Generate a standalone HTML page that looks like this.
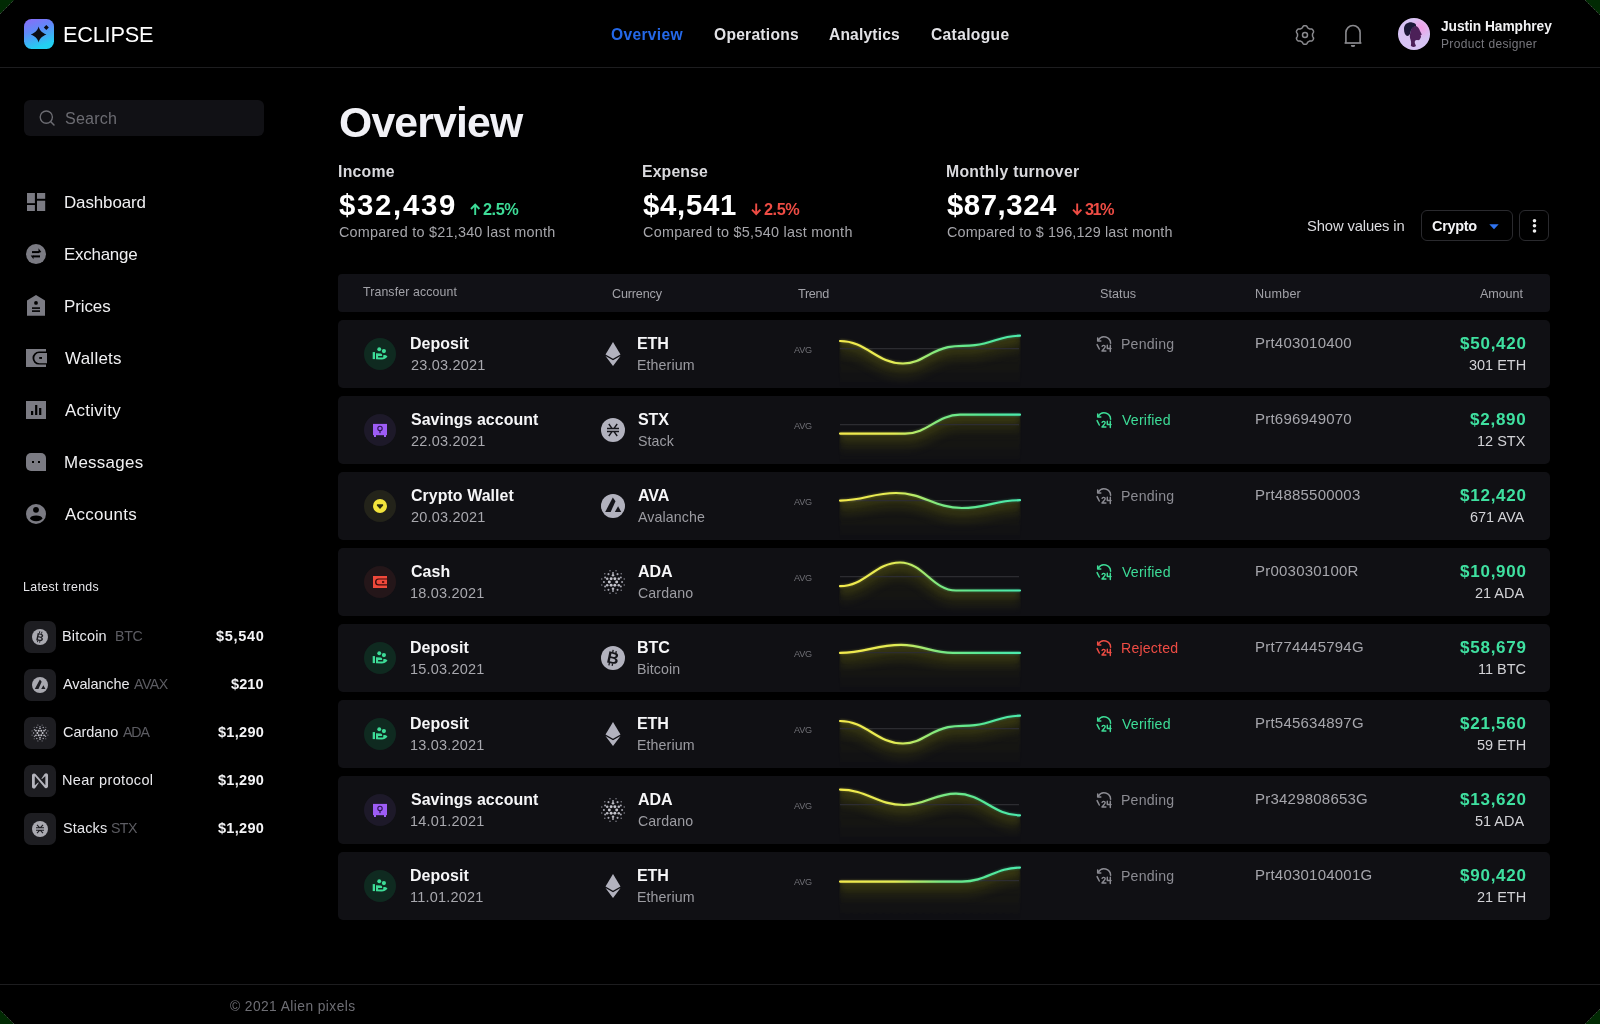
<!DOCTYPE html>
<html><head><meta charset="utf-8"><title>Eclipse - Overview</title><style>
*{margin:0;padding:0;box-sizing:border-box}
html,body{width:1600px;height:1024px;overflow:hidden;background:#012a03}
body{font-family:"Liberation Sans",sans-serif}
#page{position:absolute;left:0;top:0;width:1600px;height:1024px;background:#000;overflow:hidden;clip-path:polygon(14px 0,1585px 0,1600px 15px,1600px 1009px,1585px 1024px,14px 1024px,0 1010px,0 14px)}
.rim{position:absolute;left:0;top:0;z-index:9}
.t{position:absolute;white-space:nowrap;line-height:1;z-index:3;will-change:transform}
.abs{position:absolute}
.logo{position:absolute;left:24px;top:19px;width:30px;height:30px}
.hline{position:absolute;left:0;width:1600px;height:1px;background:#1d1d1f}
.search{position:absolute;left:24px;top:100px;width:240px;height:36px;border-radius:6px;background:#111115}
.tbox{position:absolute;left:24px;width:32px;height:32px;border-radius:7px;background:#1d1d21}
.btn{position:absolute;top:210px;height:31px;border:1.5px solid #2a2a2e;border-radius:6px}
.thead{position:absolute;left:338px;top:274px;width:1212px;height:38px;border-radius:4px;background:#111116}
.row{position:absolute;left:338px;width:1212px;height:68px;border-radius:5px;background:#101014}
</style></head>
<body><div id="page">
<div class="logo"><svg width="30" height="30" viewBox="0 0 30 30">
<defs><linearGradient id="lg" x1="0" y1="0" x2="0.35" y2="1"><stop offset="0" stop-color="#8d6bf7"/><stop offset="0.45" stop-color="#5f8af9"/><stop offset="1" stop-color="#22d0f2"/></linearGradient></defs>
<rect width="30" height="30" rx="7.5" fill="url(#lg)"/>
<path d="M14.6 7.6 C15.6 11.4 17.2 13.3 22.4 15.6 C17.2 17.9 15.6 19.8 14.6 23.6 C13.6 19.8 12 17.9 6.8 15.6 C12 13.3 13.6 11.4 14.6 7.6Z" fill="#0d0d14"/>
<path d="M22.3 5.9 L24.8 8.4 L22.3 10.9 L19.8 8.4Z" fill="#0d0d14"/>
</svg></div>
<svg class="abs" style="left:1292px;top:21.8px" width="26" height="26" viewBox="0 0 26 26">
<path d="M20.50 13.00 L20.50 12.87 L20.50 12.74 L20.50 12.61 L20.51 12.48 L20.51 12.34 L20.52 12.21 L20.54 12.07 L20.56 11.94 L20.59 11.80 L20.64 11.65 L20.71 11.50 L20.79 11.34 L20.90 11.18 L21.01 11.00 L21.14 10.82 L21.26 10.63 L21.36 10.44 L21.45 10.25 L21.51 10.07 L21.54 9.89 L21.55 9.72 L21.55 9.55 L21.52 9.38 L21.49 9.22 L21.44 9.07 L21.38 8.91 L21.32 8.76 L21.25 8.61 L21.18 8.47 L21.10 8.32 L21.01 8.19 L20.92 8.05 L20.83 7.91 L20.73 7.78 L20.63 7.66 L20.51 7.54 L20.39 7.43 L20.26 7.33 L20.12 7.23 L19.96 7.16 L19.79 7.10 L19.60 7.06 L19.40 7.03 L19.18 7.03 L18.96 7.04 L18.74 7.06 L18.53 7.07 L18.33 7.08 L18.15 7.07 L17.99 7.06 L17.84 7.03 L17.70 6.99 L17.57 6.94 L17.44 6.88 L17.32 6.82 L17.21 6.76 L17.09 6.70 L16.98 6.64 L16.86 6.57 L16.75 6.50 L16.64 6.44 L16.52 6.37 L16.41 6.31 L16.30 6.24 L16.19 6.17 L16.08 6.09 L15.97 6.01 L15.86 5.92 L15.75 5.82 L15.65 5.71 L15.56 5.58 L15.46 5.42 L15.37 5.25 L15.28 5.06 L15.18 4.86 L15.08 4.66 L14.97 4.48 L14.85 4.31 L14.72 4.17 L14.58 4.05 L14.43 3.95 L14.28 3.87 L14.13 3.81 L13.97 3.76 L13.81 3.73 L13.65 3.70 L13.49 3.68 L13.33 3.66 L13.16 3.65 L13.00 3.65 L12.84 3.65 L12.67 3.66 L12.51 3.68 L12.35 3.70 L12.19 3.73 L12.03 3.76 L11.87 3.81 L11.72 3.87 L11.57 3.95 L11.42 4.05 L11.28 4.17 L11.15 4.31 L11.03 4.48 L10.92 4.66 L10.82 4.86 L10.72 5.06 L10.63 5.25 L10.54 5.42 L10.44 5.58 L10.35 5.71 L10.25 5.82 L10.14 5.92 L10.03 6.01 L9.92 6.09 L9.81 6.17 L9.70 6.24 L9.59 6.31 L9.48 6.37 L9.36 6.44 L9.25 6.50 L9.14 6.57 L9.02 6.64 L8.91 6.70 L8.79 6.76 L8.68 6.82 L8.56 6.88 L8.43 6.94 L8.30 6.99 L8.16 7.03 L8.01 7.06 L7.85 7.07 L7.67 7.08 L7.47 7.07 L7.26 7.06 L7.04 7.04 L6.82 7.03 L6.60 7.03 L6.40 7.06 L6.21 7.10 L6.04 7.16 L5.88 7.23 L5.74 7.33 L5.61 7.43 L5.49 7.54 L5.37 7.66 L5.27 7.78 L5.17 7.91 L5.08 8.05 L4.99 8.19 L4.90 8.32 L4.82 8.47 L4.75 8.61 L4.68 8.76 L4.62 8.91 L4.56 9.07 L4.51 9.22 L4.48 9.38 L4.45 9.55 L4.45 9.72 L4.46 9.89 L4.49 10.07 L4.55 10.25 L4.64 10.44 L4.74 10.63 L4.86 10.82 L4.99 11.00 L5.10 11.18 L5.21 11.34 L5.29 11.50 L5.36 11.65 L5.41 11.80 L5.44 11.94 L5.46 12.07 L5.48 12.21 L5.49 12.34 L5.49 12.48 L5.50 12.61 L5.50 12.74 L5.50 12.87 L5.50 13.00 L5.50 13.13 L5.50 13.26 L5.50 13.39 L5.49 13.52 L5.49 13.66 L5.48 13.79 L5.46 13.93 L5.44 14.06 L5.41 14.20 L5.36 14.35 L5.29 14.50 L5.21 14.66 L5.10 14.82 L4.99 15.00 L4.86 15.18 L4.74 15.37 L4.64 15.56 L4.55 15.75 L4.49 15.93 L4.46 16.11 L4.45 16.28 L4.45 16.45 L4.48 16.62 L4.51 16.78 L4.56 16.93 L4.62 17.09 L4.68 17.24 L4.75 17.39 L4.82 17.53 L4.90 17.68 L4.99 17.81 L5.08 17.95 L5.17 18.09 L5.27 18.22 L5.37 18.34 L5.49 18.46 L5.61 18.57 L5.74 18.67 L5.88 18.77 L6.04 18.84 L6.21 18.90 L6.40 18.94 L6.60 18.97 L6.82 18.97 L7.04 18.96 L7.26 18.94 L7.47 18.93 L7.67 18.92 L7.85 18.93 L8.01 18.94 L8.16 18.97 L8.30 19.01 L8.43 19.06 L8.56 19.12 L8.68 19.18 L8.79 19.24 L8.91 19.30 L9.02 19.36 L9.14 19.43 L9.25 19.50 L9.36 19.56 L9.48 19.63 L9.59 19.69 L9.70 19.76 L9.81 19.83 L9.92 19.91 L10.03 19.99 L10.14 20.08 L10.25 20.18 L10.35 20.29 L10.44 20.42 L10.54 20.58 L10.63 20.75 L10.72 20.94 L10.82 21.14 L10.92 21.34 L11.03 21.52 L11.15 21.69 L11.28 21.83 L11.42 21.95 L11.57 22.05 L11.72 22.13 L11.87 22.19 L12.03 22.24 L12.19 22.27 L12.35 22.30 L12.51 22.32 L12.67 22.34 L12.84 22.35 L13.00 22.35 L13.16 22.35 L13.33 22.34 L13.49 22.32 L13.65 22.30 L13.81 22.27 L13.97 22.24 L14.13 22.19 L14.28 22.13 L14.43 22.05 L14.58 21.95 L14.72 21.83 L14.85 21.69 L14.97 21.52 L15.08 21.34 L15.18 21.14 L15.28 20.94 L15.37 20.75 L15.46 20.58 L15.56 20.42 L15.65 20.29 L15.75 20.18 L15.86 20.08 L15.97 19.99 L16.08 19.91 L16.19 19.83 L16.30 19.76 L16.41 19.69 L16.52 19.63 L16.64 19.56 L16.75 19.50 L16.86 19.43 L16.98 19.36 L17.09 19.30 L17.21 19.24 L17.32 19.18 L17.44 19.12 L17.57 19.06 L17.70 19.01 L17.84 18.97 L17.99 18.94 L18.15 18.93 L18.33 18.92 L18.53 18.93 L18.74 18.94 L18.96 18.96 L19.18 18.97 L19.40 18.97 L19.60 18.94 L19.79 18.90 L19.96 18.84 L20.12 18.77 L20.26 18.67 L20.39 18.57 L20.51 18.46 L20.63 18.34 L20.73 18.22 L20.83 18.09 L20.92 17.95 L21.01 17.81 L21.10 17.68 L21.18 17.53 L21.25 17.39 L21.32 17.24 L21.38 17.09 L21.44 16.93 L21.49 16.78 L21.52 16.62 L21.55 16.45 L21.55 16.28 L21.54 16.11 L21.51 15.93 L21.45 15.75 L21.36 15.56 L21.26 15.37 L21.14 15.18 L21.01 15.00 L20.90 14.82 L20.79 14.66 L20.71 14.50 L20.64 14.35 L20.59 14.20 L20.56 14.06 L20.54 13.93 L20.52 13.79 L20.51 13.66 L20.51 13.52 L20.50 13.39 L20.50 13.26 L20.50 13.13Z" fill="none" stroke="#8a8a8e" stroke-width="1.5" stroke-linejoin="round"/>
<circle cx="13" cy="13" r="2.5" fill="none" stroke="#8a8a8e" stroke-width="1.5"/></svg>
<svg class="abs" style="left:1340px;top:22px" width="26" height="28" viewBox="0 0 26 28">
<path d="M5.9 20.9 V10.6 A7.1 7.1 0 0 1 20.1 10.6 V20.9" fill="none" stroke="#8a8a8e" stroke-width="1.6"/>
<path d="M4.6 21 H21.4" stroke="#8a8a8e" stroke-width="1.7"/>
<path d="M10.8 22.9 H15.2 A2.2 2.2 0 0 1 10.8 22.9Z" fill="#8a8a8e"/></svg>
<svg class="abs" style="left:1398px;top:18px" width="32" height="32" viewBox="0 0 32 32">
<defs><radialGradient id="av" cx="0.45" cy="0.6" r="0.75"><stop offset="0" stop-color="#d8c4f2"/><stop offset="0.7" stop-color="#d6c2f4"/><stop offset="1" stop-color="#e8d4fa"/></radialGradient>
<radialGradient id="avp" cx="0.72" cy="0.3" r="0.35"><stop offset="0" stop-color="#f49ae4" stop-opacity="0.95"/><stop offset="1" stop-color="#f49ae4" stop-opacity="0"/></radialGradient>
<clipPath id="avc"><circle cx="16" cy="16" r="16"/></clipPath></defs>
<circle cx="16" cy="16" r="16" fill="url(#av)"/>
<circle cx="16" cy="16" r="16" fill="url(#avp)"/>
<g clip-path="url(#avc)">
<path d="M12.5 14 C13 10 15.5 8 18 8 C20 8.5 21.5 11 22 13 L23.8 16.5 L22.5 17.5 L23.2 19 L22.3 20 C22.5 21.5 21 22.5 19 22 C17.5 21.8 16.5 23 16.8 25 L18 28 C16 29.5 13.5 29 12.8 27.5 C13.5 25 13 22.5 12 20 C11.5 18 12 16 12.5 14Z" fill="#4c2058"/>
<path d="M6 11 C6 6 10 4 14 4.4 C17 4.7 18.5 6 18 8 C15 8.5 13 11 12.5 14 C12 16.5 11 18 9 18 C7 17 6 14.5 6 11Z" fill="#1b1838"/>
</g></svg>
<div class="hline" style="top:67px"></div>
<div class="search"></div>
<svg class="abs" style="left:38px;top:109px" width="18" height="18" viewBox="0 0 18 18">
<circle cx="8.3" cy="8.1" r="6.1" fill="none" stroke="#6c6c72" stroke-width="1.35"/>
<path d="M12.8 12.8 L16 16" stroke="#6c6c72" stroke-width="1.5" stroke-linecap="round"/></svg>
<svg class="abs" style="left:0;top:0" width="70" height="540" viewBox="0 0 70 540">
<g fill="#7b7b83">
<rect x="27" y="193" width="7.9" height="10.2"/><rect x="27" y="205" width="7.9" height="6"/>
<rect x="37" y="193" width="8.2" height="5.8"/><rect x="37" y="200.7" width="8.2" height="10.3"/>
<circle cx="36" cy="254.1" r="10"/>
<path d="M27 300.5 L36 295 L45 300.5 V315.8 H27Z"/>
<rect x="26" y="349" width="20" height="18"/>
<rect x="26" y="401" width="20" height="18"/>
<path d="M31 453 H41 A5 5 0 0 1 46 458 V471 H31 A5 5 0 0 1 26 466 V458 A5 5 0 0 1 31 453Z"/>
<circle cx="36" cy="514" r="10"/>
</g>
<g fill="#000">
<rect x="32" y="251.1" width="7" height="2"/><path d="M38.5 248.2 L41.3 252.1 L38.5 253.1Z"/>
<rect x="33" y="255.4" width="7" height="2"/><path d="M33.5 255.4 L30.7 255.4 L33.5 259.3Z"/>
<circle cx="36" cy="302.9" r="1.9"/>
<rect x="32" y="307.3" width="8" height="1.6"/><rect x="32" y="310.3" width="8" height="1.6"/>
<path d="M39 351.6 H47 V364.6 H39 A6.5 6.5 0 0 1 39 351.6Z"/>
<rect x="31" y="411" width="2.2" height="4"/><rect x="35.1" y="405" width="2.2" height="10"/><rect x="39.1" y="408" width="2.2" height="7"/>
<rect x="32" y="461" width="2" height="2"/><rect x="38" y="461" width="2" height="2"/>
<circle cx="36" cy="509.8" r="2.9"/>
<ellipse cx="36.2" cy="518.3" rx="6.1" ry="2.9"/>
</g>
<g fill="#7b7b83"><path d="M39.4 353 H47 V363.2 H39.4 A5.1 5.1 0 0 1 39.4 353Z"/></g>
<rect x="39.2" y="357" width="2.8" height="1.9" fill="#000"/>
</svg>
<div class="tbox" style="top:621px"></div>
<div class="tbox" style="top:669px"></div>
<div class="tbox" style="top:717px"></div>
<div class="tbox" style="top:765px"></div>
<div class="tbox" style="top:813px"></div>
<svg class="abs" style="left:0;top:0;will-change:transform" width="80" height="860" viewBox="0 0 80 860"><circle cx="40" cy="637" r="8" fill="#a9a9b0"/><g transform="rotate(12 40 637)"><text x="40" y="640.8" text-anchor="middle" font-family="Liberation Sans" font-weight="700" font-size="10.5" fill="#1d1d22">B</text><path d="M38.6 631.4 V633.4 M40.8 631.4 V633.4 M38.6 640.6 V642.6 M40.8 640.6 V642.6" stroke="#1d1d22" stroke-width="0.9"/></g><circle cx="40" cy="685" r="8" fill="#a9a9b0"/><path d="M39.87 679.4 L41.67 681.8 L38.47 688.93 H34.8Z M43.4 685.13 L45.47 688.93 H41.2Z" fill="#1d1d22"/><circle cx="42.60" cy="733.00" r="1.05" fill="#c4c4cc"/><circle cx="41.30" cy="735.25" r="1.05" fill="#c4c4cc"/><circle cx="38.70" cy="735.25" r="1.05" fill="#c4c4cc"/><circle cx="37.40" cy="733.00" r="1.05" fill="#c4c4cc"/><circle cx="38.70" cy="730.75" r="1.05" fill="#c4c4cc"/><circle cx="41.30" cy="730.75" r="1.05" fill="#c4c4cc"/><circle cx="44.07" cy="735.35" r="0.90" fill="#b8b8c0"/><circle cx="40.00" cy="737.70" r="0.90" fill="#b8b8c0"/><circle cx="35.93" cy="735.35" r="0.90" fill="#b8b8c0"/><circle cx="35.93" cy="730.65" r="0.90" fill="#b8b8c0"/><circle cx="40.00" cy="728.30" r="0.90" fill="#b8b8c0"/><circle cx="44.07" cy="730.65" r="0.90" fill="#b8b8c0"/><circle cx="46.40" cy="733.00" r="0.72" fill="#a4a4ae"/><circle cx="45.54" cy="736.20" r="0.72" fill="#a4a4ae"/><circle cx="43.20" cy="738.54" r="0.72" fill="#a4a4ae"/><circle cx="40.00" cy="739.40" r="0.72" fill="#a4a4ae"/><circle cx="36.80" cy="738.54" r="0.72" fill="#a4a4ae"/><circle cx="34.46" cy="736.20" r="0.72" fill="#a4a4ae"/><circle cx="33.60" cy="733.00" r="0.72" fill="#a4a4ae"/><circle cx="34.46" cy="729.80" r="0.72" fill="#a4a4ae"/><circle cx="36.80" cy="727.46" r="0.72" fill="#a4a4ae"/><circle cx="40.00" cy="726.60" r="0.72" fill="#a4a4ae"/><circle cx="43.20" cy="727.46" r="0.72" fill="#a4a4ae"/><circle cx="45.54" cy="729.80" r="0.72" fill="#a4a4ae"/><circle cx="47.92" cy="735.12" r="0.55" fill="#80808a"/><circle cx="45.80" cy="738.80" r="0.55" fill="#80808a"/><circle cx="42.12" cy="740.92" r="0.55" fill="#80808a"/><circle cx="37.88" cy="740.92" r="0.55" fill="#80808a"/><circle cx="34.20" cy="738.80" r="0.55" fill="#80808a"/><circle cx="32.08" cy="735.12" r="0.55" fill="#80808a"/><circle cx="32.08" cy="730.88" r="0.55" fill="#80808a"/><circle cx="34.20" cy="727.20" r="0.55" fill="#80808a"/><circle cx="37.88" cy="725.08" r="0.55" fill="#80808a"/><circle cx="42.12" cy="725.08" r="0.55" fill="#80808a"/><circle cx="45.80" cy="727.20" r="0.55" fill="#80808a"/><circle cx="47.92" cy="730.88" r="0.55" fill="#80808a"/><path transform="translate(32 773) scale(0.665)" d="M19.1 1.2 L14.3 8.3 C14 8.8 14.6 9.4 15.1 8.9 L19.8 4.8 C19.9 4.7 20.1 4.8 20.1 5 V17.8 C20.1 18 19.9 18.1 19.7 18 L5.3 1.6 C4.8 1 4.1 0.7 3.3 0.7 H2.8 C1.3 0.7 0 2 0 3.5 V20.5 C0 22 1.3 23.3 2.8 23.3 C3.8 23.3 4.7 22.8 5.2 22 L10 14.9 C10.3 14.4 9.7 13.8 9.2 14.3 L4.5 18.3 C4.4 18.4 4.2 18.3 4.2 18.1 V5 C4.2 4.8 4.4 4.7 4.6 4.8 L18.9 21.9 C19.4 22.5 20.1 22.8 20.8 22.8 H21.3 C22.8 22.8 24.1 21.5 24.1 20 V3 C24.1 1.5 22.8 0.2 21.3 0.2 C20.3 0.2 19.4 0.7 18.9 1.5Z" fill="#b4b4bc"/><circle cx="40" cy="829" r="8" fill="#a9a9b0"/><g stroke="#1d1d22" stroke-width="1.1" fill="none"><path d="M36 827.8 H44 M36 830.2 H44 M37 824.8 L39.6 827.6 M43 824.8 L40.4 827.6 M37 833.2 L39.6 830.4 M43 833.2 L40.4 830.4"/></g></svg>
<svg class="abs" style="left:469.5px;top:203px" width="12" height="13" viewBox="0 0 12 13"><path d="M5.2 12 V2 M1 6 L5.2 1.6 L9.4 6" fill="none" stroke="#3ddc97" stroke-width="1.9"/></svg>
<svg class="abs" style="left:750.5px;top:203px" width="12" height="13" viewBox="0 0 12 13"><path d="M5.2 0.5 V10.5 M1 6.6 L5.2 11 L9.4 6.6" fill="none" stroke="#ee4c44" stroke-width="1.9"/></svg>
<svg class="abs" style="left:1071.7px;top:203px" width="12" height="13" viewBox="0 0 12 13"><path d="M5.2 0.5 V10.5 M1 6.6 L5.2 11 L9.4 6.6" fill="none" stroke="#ee4c44" stroke-width="1.9"/></svg>
<div class="btn" style="left:1421px;width:92px"></div><div class="btn" style="left:1519px;width:30px"></div>
<svg class="abs" style="left:1488px;top:223px" width="12" height="8" viewBox="0 0 12 8"><path d="M1.3 1.2 H10.7 L6 6.2Z" fill="#2f73f0"/></svg>
<svg class="abs" style="left:1530px;top:217px" width="10" height="18" viewBox="0 0 10 18"><circle cx="4.5" cy="3.8" r="1.8" fill="#eee"/><circle cx="4.5" cy="8.8" r="1.8" fill="#eee"/><circle cx="4.5" cy="14" r="1.8" fill="#eee"/></svg>
<div class="thead"></div>
<div class="row" style="top:320px"></div>
<div class="row" style="top:396px"></div>
<div class="row" style="top:472px"></div>
<div class="row" style="top:548px"></div>
<div class="row" style="top:624px"></div>
<div class="row" style="top:700px"></div>
<div class="row" style="top:776px"></div>
<div class="row" style="top:852px"></div>
<svg class="abs" style="left:0;top:0;z-index:2" width="1600" height="1024" viewBox="0 0 1600 1024"><defs><linearGradient id="cg" gradientUnits="userSpaceOnUse" x1="840" y1="0" x2="1020" y2="0"><stop offset="0" stop-color="#f3ea4c"/><stop offset="0.3" stop-color="#e4ec54"/><stop offset="0.56" stop-color="#7ae882"/><stop offset="0.8" stop-color="#55e898"/><stop offset="1" stop-color="#4ceaae"/></linearGradient><linearGradient id="fg" x1="0" y1="0" x2="0" y2="1"><stop offset="0" stop-color="#84841a" stop-opacity="0.13"/><stop offset="0.5" stop-color="#6a6a14" stop-opacity="0.07"/><stop offset="1" stop-color="#6a6a10" stop-opacity="0.0"/></linearGradient><filter id="gl" x="-10%" y="-50%" width="120%" height="200%"><feGaussianBlur stdDeviation="1.2"/></filter><filter id="sh" x="-10%" y="-50%" width="120%" height="250%"><feGaussianBlur stdDeviation="3"/></filter><filter id="sh2" x="-10%" y="-80%" width="120%" height="300%"><feGaussianBlur stdDeviation="5"/></filter><filter id="fb" x="-5%" y="-5%" width="110%" height="110%"><feGaussianBlur stdDeviation="1.2"/></filter></defs><circle cx="380" cy="354" r="16" fill="#0f2a20"/><g fill="#3ddc97"><circle cx="379.25" cy="349.25" r="1.95"/><circle cx="383.9" cy="351.1" r="2.1"/><rect x="372.7" y="352.1" width="2.3" height="7"/><path d=" M376.00 353.20 L 380.60 353.40 C 381.60 353.50 382.30 354.30 382.20 355.20 L 382.10 356.10 L 378.10 356.10 L 378.10 357.50 L 383.20 357.50 L 383.30 355.20 C 384.80 354.80 386.30 355.30 387.50 356.40 C 386.00 358.40 384.20 359.40 381.60 359.40 L 376.00 359.30 Z"/></g><path d="M613 342 L620.5 354.4 L613 358.8 L605.5 354.4Z" fill="#b2b2be"/><path d="M605.5 355.9 L613 360.3 L620.5 355.9 L613 366Z" fill="#b2b2be"/><path d="M840.00 341.00 C866.46 341.00 876.54 363.50 903.00 363.50 C921.90 363.50 929.10 350.98 948.00 347.20 C959.34 344.93 963.66 346.56 975.00 345.20 C993.90 342.93 1001.10 335.70 1020.00 335.70 L1020 388 L840 388Z" fill="url(#fg)" filter="url(#fb)"/><g clip-path="url(#rc0)"><path d="M840.00 341.00 C866.46 341.00 876.54 363.50 903.00 363.50 C921.90 363.50 929.10 350.98 948.00 347.20 C959.34 344.93 963.66 346.56 975.00 345.20 C993.90 342.93 1001.10 335.70 1020.00 335.70" fill="none" stroke="#8a8a18" stroke-width="14" opacity="0.13" transform="translate(0 8)" filter="url(#sh2)"/><path d="M840.00 341.00 C866.46 341.00 876.54 363.50 903.00 363.50 C921.90 363.50 929.10 350.98 948.00 347.20 C959.34 344.93 963.66 346.56 975.00 345.20 C993.90 342.93 1001.10 335.70 1020.00 335.70" fill="none" stroke="#9a9a1a" stroke-width="5" opacity="0.22" transform="translate(0 3.5)" filter="url(#sh)"/></g><clipPath id="rc0"><path d="M840.00 341.00 C866.46 341.00 876.54 363.50 903.00 363.50 C921.90 363.50 929.10 350.98 948.00 347.20 C959.34 344.93 963.66 346.56 975.00 345.20 C993.90 342.93 1001.10 335.70 1020.00 335.70 L1022 388 L838 388Z"/></clipPath><line x1="840" y1="348.6" x2="1019" y2="348.6" stroke="#2c2c31" stroke-width="1.2"/><path d="M840.00 341.00 C866.46 341.00 876.54 363.50 903.00 363.50 C921.90 363.50 929.10 350.98 948.00 347.20 C959.34 344.93 963.66 346.56 975.00 345.20 C993.90 342.93 1001.10 335.70 1020.00 335.70" fill="none" stroke="url(#cg)" stroke-width="3" opacity="0.3" filter="url(#gl)"/><path d="M840.00 341.00 C866.46 341.00 876.54 363.50 903.00 363.50 C921.90 363.50 929.10 350.98 948.00 347.20 C959.34 344.93 963.66 346.56 975.00 345.20 C993.90 342.93 1001.10 335.70 1020.00 335.70" fill="none" stroke="url(#cg)" stroke-width="2.2" stroke-linecap="round"/><g transform="translate(1092,332)" fill="none" stroke="#8b8b92" stroke-width="1.5" stroke-linecap="round" stroke-linejoin="round"><path d="M6.4 8 A6.6 6.6 0 0 1 18.6 11.2"/><path d="M5.7 5.9 V9 H8.8"/><path d="M5.1 12.6 L7.3 17"/><path d="M10.1 14.3 C10.4 13 13 13 13.2 14.6 C13.3 15.6 12 16.6 10 19 H13.9" stroke-width="1.45"/><path d="M15.3 13.2 V16.5 H19 M18.3 13.2 V19.4" stroke-width="1.45"/></g><circle cx="380" cy="430" r="16" fill="#1d1929"/><rect x="373" y="423.9" width="14" height="11.3" fill="#9d5cf6"/><rect x="374" y="435" width="2" height="2" fill="#9d5cf6"/><rect x="384" y="435" width="2" height="2" fill="#9d5cf6"/><circle cx="380" cy="428.4" r="2.2" fill="none" stroke="#2b1550" stroke-width="1.1"/><rect x="379.4" y="430.6" width="1.2" height="2.6" fill="#2b1550"/><circle cx="613" cy="430" r="12" fill="#b2b2be"/><g stroke="#15151b" stroke-width="1.4" fill="none"><path d="M607 428.5 H619 M607 431.5 H619 M608.8 424 L612 428.4 M617.2 424 L614 428.4 M608.8 436 L612 431.6 M617.2 436 L614 431.6"/></g><path d="M840.00 433.60 C867.30 433.60 877.70 433.60 905.00 433.60 C928.10 433.60 936.90 414.70 960.00 414.70 C985.20 414.70 994.80 414.70 1020.00 414.70 L1020 464 L840 464Z" fill="url(#fg)" filter="url(#fb)"/><g clip-path="url(#rc1)"><path d="M840.00 433.60 C867.30 433.60 877.70 433.60 905.00 433.60 C928.10 433.60 936.90 414.70 960.00 414.70 C985.20 414.70 994.80 414.70 1020.00 414.70" fill="none" stroke="#8a8a18" stroke-width="14" opacity="0.13" transform="translate(0 8)" filter="url(#sh2)"/><path d="M840.00 433.60 C867.30 433.60 877.70 433.60 905.00 433.60 C928.10 433.60 936.90 414.70 960.00 414.70 C985.20 414.70 994.80 414.70 1020.00 414.70" fill="none" stroke="#9a9a1a" stroke-width="5" opacity="0.22" transform="translate(0 3.5)" filter="url(#sh)"/></g><clipPath id="rc1"><path d="M840.00 433.60 C867.30 433.60 877.70 433.60 905.00 433.60 C928.10 433.60 936.90 414.70 960.00 414.70 C985.20 414.70 994.80 414.70 1020.00 414.70 L1022 464 L838 464Z"/></clipPath><line x1="840" y1="424.6" x2="1019" y2="424.6" stroke="#2c2c31" stroke-width="1.2"/><path d="M840.00 433.60 C867.30 433.60 877.70 433.60 905.00 433.60 C928.10 433.60 936.90 414.70 960.00 414.70 C985.20 414.70 994.80 414.70 1020.00 414.70" fill="none" stroke="url(#cg)" stroke-width="3" opacity="0.3" filter="url(#gl)"/><path d="M840.00 433.60 C867.30 433.60 877.70 433.60 905.00 433.60 C928.10 433.60 936.90 414.70 960.00 414.70 C985.20 414.70 994.80 414.70 1020.00 414.70" fill="none" stroke="url(#cg)" stroke-width="2.2" stroke-linecap="round"/><g transform="translate(1092,408)" fill="none" stroke="#3ddc97" stroke-width="1.5" stroke-linecap="round" stroke-linejoin="round"><path d="M6.4 8 A6.6 6.6 0 0 1 18.6 11.2"/><path d="M5.7 5.9 V9 H8.8"/><path d="M5.1 12.6 L7.3 17"/><path d="M10.1 14.3 C10.4 13 13 13 13.2 14.6 C13.3 15.6 12 16.6 10 19 H13.9" stroke-width="1.45"/><path d="M15.3 13.2 V16.5 H19 M18.3 13.2 V19.4" stroke-width="1.45"/></g><circle cx="380" cy="506" r="16" fill="#23231a"/><circle cx="380" cy="506" r="7" fill="#f2e43c"/><path d="M377 504.2 H383 L383.2 505.4 L380 508.9 L376.8 505.4Z" fill="#2a2a10"/><circle cx="613" cy="506" r="12" fill="#b2b2be"/><path d="M612.8 497.6 L615.5 501.2 L610.7 511.9 H605.2Z" fill="#15151b"/><path d="M618.1 506.2 L621.2 511.9 H614.8Z" fill="#15151b"/><path d="M840.00 500.60 C863.52 500.60 872.48 493.00 896.00 493.00 C923.72 493.00 934.28 508.00 962.00 508.00 C986.36 508.00 995.64 500.20 1020.00 500.20 L1020 540 L840 540Z" fill="url(#fg)" filter="url(#fb)"/><g clip-path="url(#rc2)"><path d="M840.00 500.60 C863.52 500.60 872.48 493.00 896.00 493.00 C923.72 493.00 934.28 508.00 962.00 508.00 C986.36 508.00 995.64 500.20 1020.00 500.20" fill="none" stroke="#8a8a18" stroke-width="14" opacity="0.13" transform="translate(0 8)" filter="url(#sh2)"/><path d="M840.00 500.60 C863.52 500.60 872.48 493.00 896.00 493.00 C923.72 493.00 934.28 508.00 962.00 508.00 C986.36 508.00 995.64 500.20 1020.00 500.20" fill="none" stroke="#9a9a1a" stroke-width="5" opacity="0.22" transform="translate(0 3.5)" filter="url(#sh)"/></g><clipPath id="rc2"><path d="M840.00 500.60 C863.52 500.60 872.48 493.00 896.00 493.00 C923.72 493.00 934.28 508.00 962.00 508.00 C986.36 508.00 995.64 500.20 1020.00 500.20 L1022 540 L838 540Z"/></clipPath><line x1="840" y1="500.6" x2="1019" y2="500.6" stroke="#2c2c31" stroke-width="1.2"/><path d="M840.00 500.60 C863.52 500.60 872.48 493.00 896.00 493.00 C923.72 493.00 934.28 508.00 962.00 508.00 C986.36 508.00 995.64 500.20 1020.00 500.20" fill="none" stroke="url(#cg)" stroke-width="3" opacity="0.3" filter="url(#gl)"/><path d="M840.00 500.60 C863.52 500.60 872.48 493.00 896.00 493.00 C923.72 493.00 934.28 508.00 962.00 508.00 C986.36 508.00 995.64 500.20 1020.00 500.20" fill="none" stroke="url(#cg)" stroke-width="2.2" stroke-linecap="round"/><g transform="translate(1092,484)" fill="none" stroke="#8b8b92" stroke-width="1.5" stroke-linecap="round" stroke-linejoin="round"><path d="M6.4 8 A6.6 6.6 0 0 1 18.6 11.2"/><path d="M5.7 5.9 V9 H8.8"/><path d="M5.1 12.6 L7.3 17"/><path d="M10.1 14.3 C10.4 13 13 13 13.2 14.6 C13.3 15.6 12 16.6 10 19 H13.9" stroke-width="1.45"/><path d="M15.3 13.2 V16.5 H19 M18.3 13.2 V19.4" stroke-width="1.45"/></g><circle cx="380" cy="582" r="16" fill="#241619"/><rect x="373" y="576" width="14" height="12" fill="#f0493b"/><path d="M378.5 578.4 H387.6 V585.4 H378.5 A3.5 3.5 0 0 1 378.5 578.4Z" fill="#3a0d0d"/><path d="M378.8 579.5 H387 V584.3 H378.8 A2.4 2.4 0 0 1 378.8 579.5Z" fill="#f0493b"/><rect x="382" y="581.1" width="2.2" height="1.8" fill="#5a0d0d"/><circle cx="616.69" cy="582.00" r="1.49" fill="#c4c4cc"/><circle cx="614.85" cy="585.20" r="1.49" fill="#c4c4cc"/><circle cx="611.15" cy="585.20" r="1.49" fill="#c4c4cc"/><circle cx="609.31" cy="582.00" r="1.49" fill="#c4c4cc"/><circle cx="611.15" cy="578.80" r="1.49" fill="#c4c4cc"/><circle cx="614.85" cy="578.80" r="1.49" fill="#c4c4cc"/><circle cx="618.78" cy="585.34" r="1.28" fill="#b8b8c0"/><circle cx="613.00" cy="588.67" r="1.28" fill="#b8b8c0"/><circle cx="607.22" cy="585.34" r="1.28" fill="#b8b8c0"/><circle cx="607.22" cy="578.66" r="1.28" fill="#b8b8c0"/><circle cx="613.00" cy="575.33" r="1.28" fill="#b8b8c0"/><circle cx="618.78" cy="578.66" r="1.28" fill="#b8b8c0"/><circle cx="622.09" cy="582.00" r="1.02" fill="#a4a4ae"/><circle cx="620.87" cy="586.54" r="1.02" fill="#a4a4ae"/><circle cx="617.54" cy="589.87" r="1.02" fill="#a4a4ae"/><circle cx="613.00" cy="591.09" r="1.02" fill="#a4a4ae"/><circle cx="608.46" cy="589.87" r="1.02" fill="#a4a4ae"/><circle cx="605.13" cy="586.54" r="1.02" fill="#a4a4ae"/><circle cx="603.91" cy="582.00" r="1.02" fill="#a4a4ae"/><circle cx="605.13" cy="577.46" r="1.02" fill="#a4a4ae"/><circle cx="608.46" cy="574.13" r="1.02" fill="#a4a4ae"/><circle cx="613.00" cy="572.91" r="1.02" fill="#a4a4ae"/><circle cx="617.54" cy="574.13" r="1.02" fill="#a4a4ae"/><circle cx="620.87" cy="577.46" r="1.02" fill="#a4a4ae"/><circle cx="624.25" cy="585.01" r="0.78" fill="#80808a"/><circle cx="621.23" cy="590.23" r="0.78" fill="#80808a"/><circle cx="616.01" cy="593.25" r="0.78" fill="#80808a"/><circle cx="609.99" cy="593.25" r="0.78" fill="#80808a"/><circle cx="604.77" cy="590.23" r="0.78" fill="#80808a"/><circle cx="601.75" cy="585.01" r="0.78" fill="#80808a"/><circle cx="601.75" cy="578.99" r="0.78" fill="#80808a"/><circle cx="604.77" cy="573.77" r="0.78" fill="#80808a"/><circle cx="609.99" cy="570.75" r="0.78" fill="#80808a"/><circle cx="616.01" cy="570.75" r="0.78" fill="#80808a"/><circle cx="621.23" cy="573.77" r="0.78" fill="#80808a"/><circle cx="624.25" cy="578.99" r="0.78" fill="#80808a"/><path d="M840.00 586.20 C865.20 586.20 874.80 562.50 900.00 562.50 C923.52 562.50 932.48 590.50 956.00 590.50 C982.88 590.50 993.12 590.50 1020.00 590.50 L1020 616 L840 616Z" fill="url(#fg)" filter="url(#fb)"/><g clip-path="url(#rc3)"><path d="M840.00 586.20 C865.20 586.20 874.80 562.50 900.00 562.50 C923.52 562.50 932.48 590.50 956.00 590.50 C982.88 590.50 993.12 590.50 1020.00 590.50" fill="none" stroke="#8a8a18" stroke-width="14" opacity="0.13" transform="translate(0 8)" filter="url(#sh2)"/><path d="M840.00 586.20 C865.20 586.20 874.80 562.50 900.00 562.50 C923.52 562.50 932.48 590.50 956.00 590.50 C982.88 590.50 993.12 590.50 1020.00 590.50" fill="none" stroke="#9a9a1a" stroke-width="5" opacity="0.22" transform="translate(0 3.5)" filter="url(#sh)"/></g><clipPath id="rc3"><path d="M840.00 586.20 C865.20 586.20 874.80 562.50 900.00 562.50 C923.52 562.50 932.48 590.50 956.00 590.50 C982.88 590.50 993.12 590.50 1020.00 590.50 L1022 616 L838 616Z"/></clipPath><line x1="840" y1="576.6" x2="1019" y2="576.6" stroke="#2c2c31" stroke-width="1.2"/><path d="M840.00 586.20 C865.20 586.20 874.80 562.50 900.00 562.50 C923.52 562.50 932.48 590.50 956.00 590.50 C982.88 590.50 993.12 590.50 1020.00 590.50" fill="none" stroke="url(#cg)" stroke-width="3" opacity="0.3" filter="url(#gl)"/><path d="M840.00 586.20 C865.20 586.20 874.80 562.50 900.00 562.50 C923.52 562.50 932.48 590.50 956.00 590.50 C982.88 590.50 993.12 590.50 1020.00 590.50" fill="none" stroke="url(#cg)" stroke-width="2.2" stroke-linecap="round"/><g transform="translate(1092,560)" fill="none" stroke="#3ddc97" stroke-width="1.5" stroke-linecap="round" stroke-linejoin="round"><path d="M6.4 8 A6.6 6.6 0 0 1 18.6 11.2"/><path d="M5.7 5.9 V9 H8.8"/><path d="M5.1 12.6 L7.3 17"/><path d="M10.1 14.3 C10.4 13 13 13 13.2 14.6 C13.3 15.6 12 16.6 10 19 H13.9" stroke-width="1.45"/><path d="M15.3 13.2 V16.5 H19 M18.3 13.2 V19.4" stroke-width="1.45"/></g><circle cx="380" cy="658" r="16" fill="#0f2a20"/><g fill="#3ddc97"><circle cx="379.25" cy="653.25" r="1.95"/><circle cx="383.9" cy="655.1" r="2.1"/><rect x="372.7" y="656.1" width="2.3" height="7"/><path d=" M376.00 657.20 L 380.60 657.40 C 381.60 657.50 382.30 658.30 382.20 659.20 L 382.10 660.10 L 378.10 660.10 L 378.10 661.50 L 383.20 661.50 L 383.30 659.20 C 384.80 658.80 386.30 659.30 387.50 660.40 C 386.00 662.40 384.20 663.40 381.60 663.40 L 376.00 663.30 Z"/></g><circle cx="613" cy="658" r="12" fill="#b2b2be"/><text x="613" y="663.6" text-anchor="middle" font-family="Liberation Sans" font-weight="700" font-size="16.5" fill="#15151b" transform="rotate(12 613 658)">B</text><path d="M611.5 650 V652.5 M614.8 650.7 V652.7 M610.5 663.6 V666 M613.8 663.6 V665.8" stroke="#15151b" stroke-width="1.3" transform="rotate(12 613 658)"/><path d="M840.00 652.90 C865.62 652.90 875.38 644.80 901.00 644.80 C922.84 644.80 931.16 652.90 953.00 652.90 C981.14 652.90 991.86 652.90 1020.00 652.90 L1020 692 L840 692Z" fill="url(#fg)" filter="url(#fb)"/><g clip-path="url(#rc4)"><path d="M840.00 652.90 C865.62 652.90 875.38 644.80 901.00 644.80 C922.84 644.80 931.16 652.90 953.00 652.90 C981.14 652.90 991.86 652.90 1020.00 652.90" fill="none" stroke="#8a8a18" stroke-width="14" opacity="0.13" transform="translate(0 8)" filter="url(#sh2)"/><path d="M840.00 652.90 C865.62 652.90 875.38 644.80 901.00 644.80 C922.84 644.80 931.16 652.90 953.00 652.90 C981.14 652.90 991.86 652.90 1020.00 652.90" fill="none" stroke="#9a9a1a" stroke-width="5" opacity="0.22" transform="translate(0 3.5)" filter="url(#sh)"/></g><clipPath id="rc4"><path d="M840.00 652.90 C865.62 652.90 875.38 644.80 901.00 644.80 C922.84 644.80 931.16 652.90 953.00 652.90 C981.14 652.90 991.86 652.90 1020.00 652.90 L1022 692 L838 692Z"/></clipPath><line x1="840" y1="652.6" x2="1019" y2="652.6" stroke="#2c2c31" stroke-width="1.2"/><path d="M840.00 652.90 C865.62 652.90 875.38 644.80 901.00 644.80 C922.84 644.80 931.16 652.90 953.00 652.90 C981.14 652.90 991.86 652.90 1020.00 652.90" fill="none" stroke="url(#cg)" stroke-width="3" opacity="0.3" filter="url(#gl)"/><path d="M840.00 652.90 C865.62 652.90 875.38 644.80 901.00 644.80 C922.84 644.80 931.16 652.90 953.00 652.90 C981.14 652.90 991.86 652.90 1020.00 652.90" fill="none" stroke="url(#cg)" stroke-width="2.2" stroke-linecap="round"/><g transform="translate(1092,636)" fill="none" stroke="#ee4c44" stroke-width="1.5" stroke-linecap="round" stroke-linejoin="round"><path d="M6.4 8 A6.6 6.6 0 0 1 18.6 11.2"/><path d="M5.7 5.9 V9 H8.8"/><path d="M5.1 12.6 L7.3 17"/><path d="M10.1 14.3 C10.4 13 13 13 13.2 14.6 C13.3 15.6 12 16.6 10 19 H13.9" stroke-width="1.45"/><path d="M15.3 13.2 V16.5 H19 M18.3 13.2 V19.4" stroke-width="1.45"/></g><circle cx="380" cy="734" r="16" fill="#0f2a20"/><g fill="#3ddc97"><circle cx="379.25" cy="729.25" r="1.95"/><circle cx="383.9" cy="731.1" r="2.1"/><rect x="372.7" y="732.1" width="2.3" height="7"/><path d=" M376.00 733.20 L 380.60 733.40 C 381.60 733.50 382.30 734.30 382.20 735.20 L 382.10 736.10 L 378.10 736.10 L 378.10 737.50 L 383.20 737.50 L 383.30 735.20 C 384.80 734.80 386.30 735.30 387.50 736.40 C 386.00 738.40 384.20 739.40 381.60 739.40 L 376.00 739.30 Z"/></g><path d="M613 722 L620.5 734.4 L613 738.8 L605.5 734.4Z" fill="#b2b2be"/><path d="M605.5 735.9 L613 740.3 L620.5 735.9 L613 746Z" fill="#b2b2be"/><path d="M840.00 721.00 C866.46 721.00 876.54 743.50 903.00 743.50 C921.90 743.50 929.10 730.98 948.00 727.20 C959.34 724.93 963.66 726.56 975.00 725.20 C993.90 722.93 1001.10 715.70 1020.00 715.70 L1020 768 L840 768Z" fill="url(#fg)" filter="url(#fb)"/><g clip-path="url(#rc5)"><path d="M840.00 721.00 C866.46 721.00 876.54 743.50 903.00 743.50 C921.90 743.50 929.10 730.98 948.00 727.20 C959.34 724.93 963.66 726.56 975.00 725.20 C993.90 722.93 1001.10 715.70 1020.00 715.70" fill="none" stroke="#8a8a18" stroke-width="14" opacity="0.13" transform="translate(0 8)" filter="url(#sh2)"/><path d="M840.00 721.00 C866.46 721.00 876.54 743.50 903.00 743.50 C921.90 743.50 929.10 730.98 948.00 727.20 C959.34 724.93 963.66 726.56 975.00 725.20 C993.90 722.93 1001.10 715.70 1020.00 715.70" fill="none" stroke="#9a9a1a" stroke-width="5" opacity="0.22" transform="translate(0 3.5)" filter="url(#sh)"/></g><clipPath id="rc5"><path d="M840.00 721.00 C866.46 721.00 876.54 743.50 903.00 743.50 C921.90 743.50 929.10 730.98 948.00 727.20 C959.34 724.93 963.66 726.56 975.00 725.20 C993.90 722.93 1001.10 715.70 1020.00 715.70 L1022 768 L838 768Z"/></clipPath><line x1="840" y1="728.6" x2="1019" y2="728.6" stroke="#2c2c31" stroke-width="1.2"/><path d="M840.00 721.00 C866.46 721.00 876.54 743.50 903.00 743.50 C921.90 743.50 929.10 730.98 948.00 727.20 C959.34 724.93 963.66 726.56 975.00 725.20 C993.90 722.93 1001.10 715.70 1020.00 715.70" fill="none" stroke="url(#cg)" stroke-width="3" opacity="0.3" filter="url(#gl)"/><path d="M840.00 721.00 C866.46 721.00 876.54 743.50 903.00 743.50 C921.90 743.50 929.10 730.98 948.00 727.20 C959.34 724.93 963.66 726.56 975.00 725.20 C993.90 722.93 1001.10 715.70 1020.00 715.70" fill="none" stroke="url(#cg)" stroke-width="2.2" stroke-linecap="round"/><g transform="translate(1092,712)" fill="none" stroke="#3ddc97" stroke-width="1.5" stroke-linecap="round" stroke-linejoin="round"><path d="M6.4 8 A6.6 6.6 0 0 1 18.6 11.2"/><path d="M5.7 5.9 V9 H8.8"/><path d="M5.1 12.6 L7.3 17"/><path d="M10.1 14.3 C10.4 13 13 13 13.2 14.6 C13.3 15.6 12 16.6 10 19 H13.9" stroke-width="1.45"/><path d="M15.3 13.2 V16.5 H19 M18.3 13.2 V19.4" stroke-width="1.45"/></g><circle cx="380" cy="810" r="16" fill="#1d1929"/><rect x="373" y="803.9" width="14" height="11.3" fill="#9d5cf6"/><rect x="374" y="815" width="2" height="2" fill="#9d5cf6"/><rect x="384" y="815" width="2" height="2" fill="#9d5cf6"/><circle cx="380" cy="808.4" r="2.2" fill="none" stroke="#2b1550" stroke-width="1.1"/><rect x="379.4" y="810.6" width="1.2" height="2.6" fill="#2b1550"/><circle cx="616.69" cy="810.00" r="1.49" fill="#c4c4cc"/><circle cx="614.85" cy="813.20" r="1.49" fill="#c4c4cc"/><circle cx="611.15" cy="813.20" r="1.49" fill="#c4c4cc"/><circle cx="609.31" cy="810.00" r="1.49" fill="#c4c4cc"/><circle cx="611.15" cy="806.80" r="1.49" fill="#c4c4cc"/><circle cx="614.85" cy="806.80" r="1.49" fill="#c4c4cc"/><circle cx="618.78" cy="813.34" r="1.28" fill="#b8b8c0"/><circle cx="613.00" cy="816.67" r="1.28" fill="#b8b8c0"/><circle cx="607.22" cy="813.34" r="1.28" fill="#b8b8c0"/><circle cx="607.22" cy="806.66" r="1.28" fill="#b8b8c0"/><circle cx="613.00" cy="803.33" r="1.28" fill="#b8b8c0"/><circle cx="618.78" cy="806.66" r="1.28" fill="#b8b8c0"/><circle cx="622.09" cy="810.00" r="1.02" fill="#a4a4ae"/><circle cx="620.87" cy="814.54" r="1.02" fill="#a4a4ae"/><circle cx="617.54" cy="817.87" r="1.02" fill="#a4a4ae"/><circle cx="613.00" cy="819.09" r="1.02" fill="#a4a4ae"/><circle cx="608.46" cy="817.87" r="1.02" fill="#a4a4ae"/><circle cx="605.13" cy="814.54" r="1.02" fill="#a4a4ae"/><circle cx="603.91" cy="810.00" r="1.02" fill="#a4a4ae"/><circle cx="605.13" cy="805.46" r="1.02" fill="#a4a4ae"/><circle cx="608.46" cy="802.13" r="1.02" fill="#a4a4ae"/><circle cx="613.00" cy="800.91" r="1.02" fill="#a4a4ae"/><circle cx="617.54" cy="802.13" r="1.02" fill="#a4a4ae"/><circle cx="620.87" cy="805.46" r="1.02" fill="#a4a4ae"/><circle cx="624.25" cy="813.01" r="0.78" fill="#80808a"/><circle cx="621.23" cy="818.23" r="0.78" fill="#80808a"/><circle cx="616.01" cy="821.25" r="0.78" fill="#80808a"/><circle cx="609.99" cy="821.25" r="0.78" fill="#80808a"/><circle cx="604.77" cy="818.23" r="0.78" fill="#80808a"/><circle cx="601.75" cy="813.01" r="0.78" fill="#80808a"/><circle cx="601.75" cy="806.99" r="0.78" fill="#80808a"/><circle cx="604.77" cy="801.77" r="0.78" fill="#80808a"/><circle cx="609.99" cy="798.75" r="0.78" fill="#80808a"/><circle cx="616.01" cy="798.75" r="0.78" fill="#80808a"/><circle cx="621.23" cy="801.77" r="0.78" fill="#80808a"/><circle cx="624.25" cy="806.99" r="0.78" fill="#80808a"/><path d="M840.00 789.60 C866.88 789.60 877.12 805.00 904.00 805.00 C925.84 805.00 934.16 793.60 956.00 793.60 C982.88 793.60 993.12 815.30 1020.00 815.30 L1020 844 L840 844Z" fill="url(#fg)" filter="url(#fb)"/><g clip-path="url(#rc6)"><path d="M840.00 789.60 C866.88 789.60 877.12 805.00 904.00 805.00 C925.84 805.00 934.16 793.60 956.00 793.60 C982.88 793.60 993.12 815.30 1020.00 815.30" fill="none" stroke="#8a8a18" stroke-width="14" opacity="0.13" transform="translate(0 8)" filter="url(#sh2)"/><path d="M840.00 789.60 C866.88 789.60 877.12 805.00 904.00 805.00 C925.84 805.00 934.16 793.60 956.00 793.60 C982.88 793.60 993.12 815.30 1020.00 815.30" fill="none" stroke="#9a9a1a" stroke-width="5" opacity="0.22" transform="translate(0 3.5)" filter="url(#sh)"/></g><clipPath id="rc6"><path d="M840.00 789.60 C866.88 789.60 877.12 805.00 904.00 805.00 C925.84 805.00 934.16 793.60 956.00 793.60 C982.88 793.60 993.12 815.30 1020.00 815.30 L1022 844 L838 844Z"/></clipPath><line x1="840" y1="804.6" x2="1019" y2="804.6" stroke="#2c2c31" stroke-width="1.2"/><path d="M840.00 789.60 C866.88 789.60 877.12 805.00 904.00 805.00 C925.84 805.00 934.16 793.60 956.00 793.60 C982.88 793.60 993.12 815.30 1020.00 815.30" fill="none" stroke="url(#cg)" stroke-width="3" opacity="0.3" filter="url(#gl)"/><path d="M840.00 789.60 C866.88 789.60 877.12 805.00 904.00 805.00 C925.84 805.00 934.16 793.60 956.00 793.60 C982.88 793.60 993.12 815.30 1020.00 815.30" fill="none" stroke="url(#cg)" stroke-width="2.2" stroke-linecap="round"/><g transform="translate(1092,788)" fill="none" stroke="#8b8b92" stroke-width="1.5" stroke-linecap="round" stroke-linejoin="round"><path d="M6.4 8 A6.6 6.6 0 0 1 18.6 11.2"/><path d="M5.7 5.9 V9 H8.8"/><path d="M5.1 12.6 L7.3 17"/><path d="M10.1 14.3 C10.4 13 13 13 13.2 14.6 C13.3 15.6 12 16.6 10 19 H13.9" stroke-width="1.45"/><path d="M15.3 13.2 V16.5 H19 M18.3 13.2 V19.4" stroke-width="1.45"/></g><circle cx="380" cy="886" r="16" fill="#0f2a20"/><g fill="#3ddc97"><circle cx="379.25" cy="881.25" r="1.95"/><circle cx="383.9" cy="883.1" r="2.1"/><rect x="372.7" y="884.1" width="2.3" height="7"/><path d=" M376.00 885.20 L 380.60 885.40 C 381.60 885.50 382.30 886.30 382.20 887.20 L 382.10 888.10 L 378.10 888.10 L 378.10 889.50 L 383.20 889.50 L 383.30 887.20 C 384.80 886.80 386.30 887.30 387.50 888.40 C 386.00 890.40 384.20 891.40 381.60 891.40 L 376.00 891.30 Z"/></g><path d="M613 874 L620.5 886.4 L613 890.8 L605.5 886.4Z" fill="#b2b2be"/><path d="M605.5 887.9 L613 892.3 L620.5 887.9 L613 898Z" fill="#b2b2be"/><path d="M840.00 881.60 C891.24 881.60 910.76 881.60 962.00 881.60 C986.36 881.60 995.64 867.60 1020.00 867.60 L1020 920 L840 920Z" fill="url(#fg)" filter="url(#fb)"/><g clip-path="url(#rc7)"><path d="M840.00 881.60 C891.24 881.60 910.76 881.60 962.00 881.60 C986.36 881.60 995.64 867.60 1020.00 867.60" fill="none" stroke="#8a8a18" stroke-width="14" opacity="0.13" transform="translate(0 8)" filter="url(#sh2)"/><path d="M840.00 881.60 C891.24 881.60 910.76 881.60 962.00 881.60 C986.36 881.60 995.64 867.60 1020.00 867.60" fill="none" stroke="#9a9a1a" stroke-width="5" opacity="0.22" transform="translate(0 3.5)" filter="url(#sh)"/></g><clipPath id="rc7"><path d="M840.00 881.60 C891.24 881.60 910.76 881.60 962.00 881.60 C986.36 881.60 995.64 867.60 1020.00 867.60 L1022 920 L838 920Z"/></clipPath><line x1="840" y1="880.6" x2="1019" y2="880.6" stroke="#2c2c31" stroke-width="1.2"/><path d="M840.00 881.60 C891.24 881.60 910.76 881.60 962.00 881.60 C986.36 881.60 995.64 867.60 1020.00 867.60" fill="none" stroke="url(#cg)" stroke-width="3" opacity="0.3" filter="url(#gl)"/><path d="M840.00 881.60 C891.24 881.60 910.76 881.60 962.00 881.60 C986.36 881.60 995.64 867.60 1020.00 867.60" fill="none" stroke="url(#cg)" stroke-width="2.2" stroke-linecap="round"/><g transform="translate(1092,864)" fill="none" stroke="#8b8b92" stroke-width="1.5" stroke-linecap="round" stroke-linejoin="round"><path d="M6.4 8 A6.6 6.6 0 0 1 18.6 11.2"/><path d="M5.7 5.9 V9 H8.8"/><path d="M5.1 12.6 L7.3 17"/><path d="M10.1 14.3 C10.4 13 13 13 13.2 14.6 C13.3 15.6 12 16.6 10 19 H13.9" stroke-width="1.45"/><path d="M15.3 13.2 V16.5 H19 M18.3 13.2 V19.4" stroke-width="1.45"/></g></svg>
<div class="hline" style="top:984px"></div>
<div class="t" style="left:62.75px;top:24.00px;font-size:21.74px;font-weight:400;color:#ffffff;letter-spacing:-0.219px">ECLIPSE</div>
<div class="t" style="left:611.00px;top:27.00px;font-size:15.58px;font-weight:700;color:#2468e8;letter-spacing:0.334px">Overview</div>
<div class="t" style="left:714.00px;top:27.00px;font-size:15.58px;font-weight:700;color:#e2e2e6;letter-spacing:0.270px">Operations</div>
<div class="t" style="left:829.00px;top:27.00px;font-size:15.58px;font-weight:700;color:#e2e2e6;letter-spacing:0.175px">Analytics</div>
<div class="t" style="left:931.00px;top:27.00px;font-size:15.58px;font-weight:700;color:#e2e2e6;letter-spacing:0.345px">Catalogue</div>
<div class="t" style="left:1440.80px;top:20.00px;font-size:13.77px;font-weight:700;color:#f2f2f4;letter-spacing:-0.059px">Justin Hamphrey</div>
<div class="t" style="left:1440.80px;top:38.00px;font-size:12px;font-weight:400;color:#78787e;letter-spacing:0.338px">Product designer</div>
<div class="t" style="left:64.90px;top:110.00px;font-size:16.09px;font-weight:400;color:#6c6c72;letter-spacing:0.200px">Search</div>
<div class="t" style="left:63.70px;top:195.00px;font-size:16.96px;font-weight:400;color:#f0f0f2;letter-spacing:-0.117px">Dashboard</div>
<div class="t" style="left:63.70px;top:247.00px;font-size:16.96px;font-weight:400;color:#f0f0f2;letter-spacing:-0.245px">Exchange</div>
<div class="t" style="left:63.70px;top:299.00px;font-size:16.96px;font-weight:400;color:#f0f0f2;letter-spacing:-0.078px">Prices</div>
<div class="t" style="left:64.70px;top:351.00px;font-size:16.96px;font-weight:400;color:#f0f0f2;letter-spacing:0.280px">Wallets</div>
<div class="t" style="left:64.70px;top:403.00px;font-size:16.96px;font-weight:400;color:#f0f0f2;letter-spacing:0.280px">Activity</div>
<div class="t" style="left:63.70px;top:455.00px;font-size:16.96px;font-weight:400;color:#f0f0f2;letter-spacing:0.280px">Messages</div>
<div class="t" style="left:64.70px;top:507.00px;font-size:16.96px;font-weight:400;color:#f0f0f2;letter-spacing:0.280px">Accounts</div>
<div class="t" style="left:23.00px;top:581.00px;font-size:12.32px;font-weight:400;color:#e6e6ea;letter-spacing:0.381px">Latest trends</div>
<div class="t" style="left:61.60px;top:629.00px;font-size:14.5px;font-weight:400;color:#e8e8ec;letter-spacing:0.190px">Bitcoin</div>
<div class="t" style="left:114.80px;top:629.00px;font-size:14.2px;font-weight:400;color:#5c5c62;letter-spacing:-0.315px">BTC</div>
<div class="t" style="left:215.70px;top:629.00px;font-size:14.5px;font-weight:700;color:#f4f4f6;letter-spacing:0.683px">$5,540</div>
<div class="t" style="left:62.60px;top:677.00px;font-size:14.5px;font-weight:400;color:#e8e8ec;letter-spacing:-0.123px">Avalanche</div>
<div class="t" style="left:134.10px;top:677.00px;font-size:14.2px;font-weight:400;color:#5c5c62;letter-spacing:-0.494px">AVAX</div>
<div class="t" style="left:231.00px;top:677.00px;font-size:14.5px;font-weight:700;color:#f4f4f6;letter-spacing:0.069px">$210</div>
<div class="t" style="left:62.60px;top:725.00px;font-size:14.5px;font-weight:400;color:#e8e8ec;letter-spacing:-0.043px">Cardano</div>
<div class="t" style="left:122.70px;top:725.00px;font-size:14.2px;font-weight:400;color:#5c5c62;letter-spacing:-1.154px">ADA</div>
<div class="t" style="left:217.60px;top:725.00px;font-size:14.5px;font-weight:700;color:#f4f4f6;letter-spacing:0.303px">$1,290</div>
<div class="t" style="left:61.60px;top:773.00px;font-size:14.5px;font-weight:400;color:#e8e8ec;letter-spacing:0.332px">Near protocol</div>
<div class="t" style="left:217.60px;top:773.00px;font-size:14.5px;font-weight:700;color:#f4f4f6;letter-spacing:0.303px">$1,290</div>
<div class="t" style="left:62.60px;top:821.00px;font-size:14.5px;font-weight:400;color:#e8e8ec;letter-spacing:0.127px">Stacks</div>
<div class="t" style="left:110.50px;top:821.00px;font-size:14.2px;font-weight:400;color:#5c5c62;letter-spacing:-0.615px">STX</div>
<div class="t" style="left:217.60px;top:821.00px;font-size:14.5px;font-weight:700;color:#f4f4f6;letter-spacing:0.303px">$1,290</div>
<div class="t" style="left:338.80px;top:101.00px;font-size:42.75px;font-weight:700;color:#f1f1f6;letter-spacing:-0.838px">Overview</div>
<div class="t" style="left:337.70px;top:164.00px;font-size:15.8px;font-weight:700;color:#d9d9dd;letter-spacing:0.256px">Income</div>
<div class="t" style="left:339.20px;top:190.00px;font-size:29.35px;font-weight:700;color:#ffffff;letter-spacing:1.708px">$32,439</div>
<div class="t" style="left:483.00px;top:201.00px;font-size:16.3px;font-weight:700;color:#3ddc97;letter-spacing:-0.444px">2.5%</div>
<div class="t" style="left:338.70px;top:225.00px;font-size:14.4px;font-weight:400;color:#a6a6ab;letter-spacing:0.231px">Compared to $21,340 last month</div>
<div class="t" style="left:641.80px;top:164.00px;font-size:15.8px;font-weight:700;color:#d9d9dd;letter-spacing:0.135px">Expense</div>
<div class="t" style="left:643.30px;top:190.00px;font-size:29.35px;font-weight:700;color:#ffffff;letter-spacing:0.714px">$4,541</div>
<div class="t" style="left:763.70px;top:201.00px;font-size:16.3px;font-weight:700;color:#ee4c44;letter-spacing:-0.444px">2.5%</div>
<div class="t" style="left:642.80px;top:225.00px;font-size:14.4px;font-weight:400;color:#a6a6ab;letter-spacing:0.279px">Compared to $5,540 last month</div>
<div class="t" style="left:945.75px;top:164.00px;font-size:15.8px;font-weight:700;color:#d9d9dd;letter-spacing:0.276px">Monthly turnover</div>
<div class="t" style="left:947.25px;top:190.00px;font-size:29.35px;font-weight:700;color:#ffffff;letter-spacing:0.542px">$87,324</div>
<div class="t" style="left:1084.70px;top:201.00px;font-size:16.3px;font-weight:700;color:#ee4c44;letter-spacing:-1.555px">31%</div>
<div class="t" style="left:946.75px;top:225.00px;font-size:14.4px;font-weight:400;color:#a6a6ab;letter-spacing:0.126px">Compared to $ 196,129 last month</div>
<div class="t" style="left:1307.30px;top:219.00px;font-size:14.78px;font-weight:400;color:#dcdce0;letter-spacing:-0.123px">Show values in</div>
<div class="t" style="left:1432.40px;top:219.00px;font-size:14.49px;font-weight:700;color:#f4f4f6;letter-spacing:-0.325px">Crypto</div>
<div class="t" style="left:363.10px;top:286.00px;font-size:12.32px;font-weight:400;color:#a2a2a8;letter-spacing:0.126px">Transfer account</div>
<div class="t" style="left:612.30px;top:288.00px;font-size:12.61px;font-weight:400;color:#a2a2a8;letter-spacing:-0.164px">Currency</div>
<div class="t" style="left:798.00px;top:288.00px;font-size:12.61px;font-weight:400;color:#a2a2a8;letter-spacing:-0.315px">Trend</div>
<div class="t" style="left:1100.40px;top:288.00px;font-size:12.61px;font-weight:400;color:#a2a2a8;letter-spacing:0.052px">Status</div>
<div class="t" style="left:1255.40px;top:288.00px;font-size:12.61px;font-weight:400;color:#a2a2a8;letter-spacing:0.190px">Number</div>
<div class="t" style="left:1480.00px;top:288.00px;font-size:12.61px;font-weight:400;color:#a2a2a8;letter-spacing:-0.110px">Amount</div>
<div class="t" style="left:409.60px;top:336.00px;font-size:15.94px;font-weight:700;color:#f6f6f8;letter-spacing:0.050px">Deposit</div>
<div class="t" style="left:410.60px;top:358.00px;font-size:14.49px;font-weight:400;color:#a8a8ae;letter-spacing:0.200px">23.03.2021</div>
<div class="t" style="left:636.80px;top:335.00px;font-size:16.09px;font-weight:700;color:#f6f6f8;letter-spacing:-0.100px">ETH</div>
<div class="t" style="left:636.80px;top:358.00px;font-size:14.2px;font-weight:400;color:#9c9ca2;letter-spacing:0.100px">Etherium</div>
<div class="t" style="left:794.00px;top:346.00px;font-size:9.13px;font-weight:400;color:#707076;letter-spacing:-0.247px">AVG</div>
<div class="t" style="left:1120.60px;top:337.00px;font-size:14.13px;font-weight:400;color:#8b8b92;letter-spacing:0.200px">Pending</div>
<div class="t" style="left:1255.40px;top:335.00px;font-size:15px;font-weight:400;color:#a6a6ac;letter-spacing:0.220px">Prt403010400</div>
<div class="t" style="left:1459.71px;top:335.00px;font-size:17.03px;font-weight:700;color:#3fe0a0;letter-spacing:0.750px">$50,420</div>
<div class="t" style="left:1468.55px;top:358.00px;font-size:14.49px;font-weight:400;color:#d2d2d6;letter-spacing:0.000px">301 ETH</div>
<div class="t" style="left:410.60px;top:412.00px;font-size:15.94px;font-weight:700;color:#f6f6f8;letter-spacing:0.050px">Savings account</div>
<div class="t" style="left:410.60px;top:434.00px;font-size:14.49px;font-weight:400;color:#a8a8ae;letter-spacing:0.200px">22.03.2021</div>
<div class="t" style="left:637.80px;top:411.00px;font-size:16.09px;font-weight:700;color:#f6f6f8;letter-spacing:-0.100px">STX</div>
<div class="t" style="left:637.80px;top:434.00px;font-size:14.2px;font-weight:400;color:#9c9ca2;letter-spacing:0.100px">Stack</div>
<div class="t" style="left:794.00px;top:422.00px;font-size:9.13px;font-weight:400;color:#707076;letter-spacing:-0.247px">AVG</div>
<div class="t" style="left:1121.60px;top:413.00px;font-size:14.13px;font-weight:400;color:#3ddc97;letter-spacing:0.200px">Verified</div>
<div class="t" style="left:1255.40px;top:411.00px;font-size:15px;font-weight:400;color:#a6a6ac;letter-spacing:0.220px">Prt696949070</div>
<div class="t" style="left:1469.92px;top:411.00px;font-size:17.03px;font-weight:700;color:#3fe0a0;letter-spacing:0.750px">$2,890</div>
<div class="t" style="left:1476.61px;top:434.00px;font-size:14.49px;font-weight:400;color:#d2d2d6;letter-spacing:0.000px">12 STX</div>
<div class="t" style="left:410.60px;top:488.00px;font-size:15.94px;font-weight:700;color:#f6f6f8;letter-spacing:0.050px">Crypto Wallet</div>
<div class="t" style="left:410.60px;top:510.00px;font-size:14.49px;font-weight:400;color:#a8a8ae;letter-spacing:0.200px">20.03.2021</div>
<div class="t" style="left:637.80px;top:487.00px;font-size:16.09px;font-weight:700;color:#f6f6f8;letter-spacing:-0.100px">AVA</div>
<div class="t" style="left:637.80px;top:510.00px;font-size:14.2px;font-weight:400;color:#9c9ca2;letter-spacing:0.100px">Avalanche</div>
<div class="t" style="left:794.00px;top:498.00px;font-size:9.13px;font-weight:400;color:#707076;letter-spacing:-0.247px">AVG</div>
<div class="t" style="left:1120.60px;top:489.00px;font-size:14.13px;font-weight:400;color:#8b8b92;letter-spacing:0.200px">Pending</div>
<div class="t" style="left:1255.40px;top:487.00px;font-size:15px;font-weight:400;color:#a6a6ac;letter-spacing:0.220px">Prt4885500003</div>
<div class="t" style="left:1459.71px;top:487.00px;font-size:17.03px;font-weight:700;color:#3fe0a0;letter-spacing:0.750px">$12,420</div>
<div class="t" style="left:1469.89px;top:510.00px;font-size:14.49px;font-weight:400;color:#d2d2d6;letter-spacing:0.000px">671 AVA</div>
<div class="t" style="left:410.60px;top:564.00px;font-size:15.94px;font-weight:700;color:#f6f6f8;letter-spacing:0.050px">Cash</div>
<div class="t" style="left:409.60px;top:586.00px;font-size:14.49px;font-weight:400;color:#a8a8ae;letter-spacing:0.200px">18.03.2021</div>
<div class="t" style="left:637.80px;top:563.00px;font-size:16.09px;font-weight:700;color:#f6f6f8;letter-spacing:-0.100px">ADA</div>
<div class="t" style="left:637.80px;top:586.00px;font-size:14.2px;font-weight:400;color:#9c9ca2;letter-spacing:0.100px">Cardano</div>
<div class="t" style="left:794.00px;top:574.00px;font-size:9.13px;font-weight:400;color:#707076;letter-spacing:-0.247px">AVG</div>
<div class="t" style="left:1121.60px;top:565.00px;font-size:14.13px;font-weight:400;color:#3ddc97;letter-spacing:0.200px">Verified</div>
<div class="t" style="left:1255.40px;top:563.00px;font-size:15px;font-weight:400;color:#a6a6ac;letter-spacing:0.220px">Pr003030100R</div>
<div class="t" style="left:1459.71px;top:563.00px;font-size:17.03px;font-weight:700;color:#3fe0a0;letter-spacing:0.750px">$10,900</div>
<div class="t" style="left:1474.99px;top:586.00px;font-size:14.49px;font-weight:400;color:#d2d2d6;letter-spacing:0.000px">21 ADA</div>
<div class="t" style="left:409.60px;top:640.00px;font-size:15.94px;font-weight:700;color:#f6f6f8;letter-spacing:0.050px">Deposit</div>
<div class="t" style="left:409.60px;top:662.00px;font-size:14.49px;font-weight:400;color:#a8a8ae;letter-spacing:0.200px">15.03.2021</div>
<div class="t" style="left:636.80px;top:639.00px;font-size:16.09px;font-weight:700;color:#f6f6f8;letter-spacing:-0.100px">BTC</div>
<div class="t" style="left:636.80px;top:662.00px;font-size:14.2px;font-weight:400;color:#9c9ca2;letter-spacing:0.100px">Bitcoin</div>
<div class="t" style="left:794.00px;top:650.00px;font-size:9.13px;font-weight:400;color:#707076;letter-spacing:-0.247px">AVG</div>
<div class="t" style="left:1120.60px;top:641.00px;font-size:14.13px;font-weight:400;color:#ee4c44;letter-spacing:0.200px">Rejected</div>
<div class="t" style="left:1255.40px;top:639.00px;font-size:15px;font-weight:400;color:#a6a6ac;letter-spacing:0.220px">Prt774445794G</div>
<div class="t" style="left:1459.71px;top:639.00px;font-size:17.03px;font-weight:700;color:#3fe0a0;letter-spacing:0.750px">$58,679</div>
<div class="t" style="left:1477.68px;top:662.00px;font-size:14.49px;font-weight:400;color:#d2d2d6;letter-spacing:0.000px">11 BTC</div>
<div class="t" style="left:409.60px;top:716.00px;font-size:15.94px;font-weight:700;color:#f6f6f8;letter-spacing:0.050px">Deposit</div>
<div class="t" style="left:409.60px;top:738.00px;font-size:14.49px;font-weight:400;color:#a8a8ae;letter-spacing:0.200px">13.03.2021</div>
<div class="t" style="left:636.80px;top:715.00px;font-size:16.09px;font-weight:700;color:#f6f6f8;letter-spacing:-0.100px">ETH</div>
<div class="t" style="left:636.80px;top:738.00px;font-size:14.2px;font-weight:400;color:#9c9ca2;letter-spacing:0.100px">Etherium</div>
<div class="t" style="left:794.00px;top:726.00px;font-size:9.13px;font-weight:400;color:#707076;letter-spacing:-0.247px">AVG</div>
<div class="t" style="left:1121.60px;top:717.00px;font-size:14.13px;font-weight:400;color:#3ddc97;letter-spacing:0.200px">Verified</div>
<div class="t" style="left:1255.40px;top:715.00px;font-size:15px;font-weight:400;color:#a6a6ac;letter-spacing:0.220px">Prt545634897G</div>
<div class="t" style="left:1459.71px;top:715.00px;font-size:17.03px;font-weight:700;color:#3fe0a0;letter-spacing:0.750px">$21,560</div>
<div class="t" style="left:1476.61px;top:738.00px;font-size:14.49px;font-weight:400;color:#d2d2d6;letter-spacing:0.000px">59 ETH</div>
<div class="t" style="left:410.60px;top:792.00px;font-size:15.94px;font-weight:700;color:#f6f6f8;letter-spacing:0.050px">Savings account</div>
<div class="t" style="left:409.60px;top:814.00px;font-size:14.49px;font-weight:400;color:#a8a8ae;letter-spacing:0.200px">14.01.2021</div>
<div class="t" style="left:637.80px;top:791.00px;font-size:16.09px;font-weight:700;color:#f6f6f8;letter-spacing:-0.100px">ADA</div>
<div class="t" style="left:637.80px;top:814.00px;font-size:14.2px;font-weight:400;color:#9c9ca2;letter-spacing:0.100px">Cardano</div>
<div class="t" style="left:794.00px;top:802.00px;font-size:9.13px;font-weight:400;color:#707076;letter-spacing:-0.247px">AVG</div>
<div class="t" style="left:1120.60px;top:793.00px;font-size:14.13px;font-weight:400;color:#8b8b92;letter-spacing:0.200px">Pending</div>
<div class="t" style="left:1255.40px;top:791.00px;font-size:15px;font-weight:400;color:#a6a6ac;letter-spacing:0.220px">Pr3429808653G</div>
<div class="t" style="left:1459.71px;top:791.00px;font-size:17.03px;font-weight:700;color:#3fe0a0;letter-spacing:0.750px">$13,620</div>
<div class="t" style="left:1474.99px;top:814.00px;font-size:14.49px;font-weight:400;color:#d2d2d6;letter-spacing:0.000px">51 ADA</div>
<div class="t" style="left:409.60px;top:868.00px;font-size:15.94px;font-weight:700;color:#f6f6f8;letter-spacing:0.050px">Deposit</div>
<div class="t" style="left:409.60px;top:890.00px;font-size:14.49px;font-weight:400;color:#a8a8ae;letter-spacing:0.200px">11.01.2021</div>
<div class="t" style="left:636.80px;top:867.00px;font-size:16.09px;font-weight:700;color:#f6f6f8;letter-spacing:-0.100px">ETH</div>
<div class="t" style="left:636.80px;top:890.00px;font-size:14.2px;font-weight:400;color:#9c9ca2;letter-spacing:0.100px">Etherium</div>
<div class="t" style="left:794.00px;top:878.00px;font-size:9.13px;font-weight:400;color:#707076;letter-spacing:-0.247px">AVG</div>
<div class="t" style="left:1120.60px;top:869.00px;font-size:14.13px;font-weight:400;color:#8b8b92;letter-spacing:0.200px">Pending</div>
<div class="t" style="left:1255.40px;top:867.00px;font-size:15px;font-weight:400;color:#a6a6ac;letter-spacing:0.220px">Prt4030104001G</div>
<div class="t" style="left:1459.71px;top:867.00px;font-size:17.03px;font-weight:700;color:#3fe0a0;letter-spacing:0.750px">$90,420</div>
<div class="t" style="left:1476.61px;top:890.00px;font-size:14.49px;font-weight:400;color:#d2d2d6;letter-spacing:0.000px">21 ETH</div>
<div class="t" style="left:229.50px;top:1000.00px;font-size:13.77px;font-weight:400;color:#6e6e74;letter-spacing:0.436px">&#169; 2021 Alien pixels</div>
</div>
<svg class="rim" width="1600" height="1024" viewBox="0 0 1600 1024"><g stroke="#9a9a9a" stroke-width="1" stroke-dasharray="1 1.2" opacity="0.55">
<path d="M0 14 L14 0"/><path d="M1585 0 L1600 15"/><path d="M1600 1009 L1585 1024"/><path d="M14 1024 L0 1010"/></g></svg>
</body></html>
